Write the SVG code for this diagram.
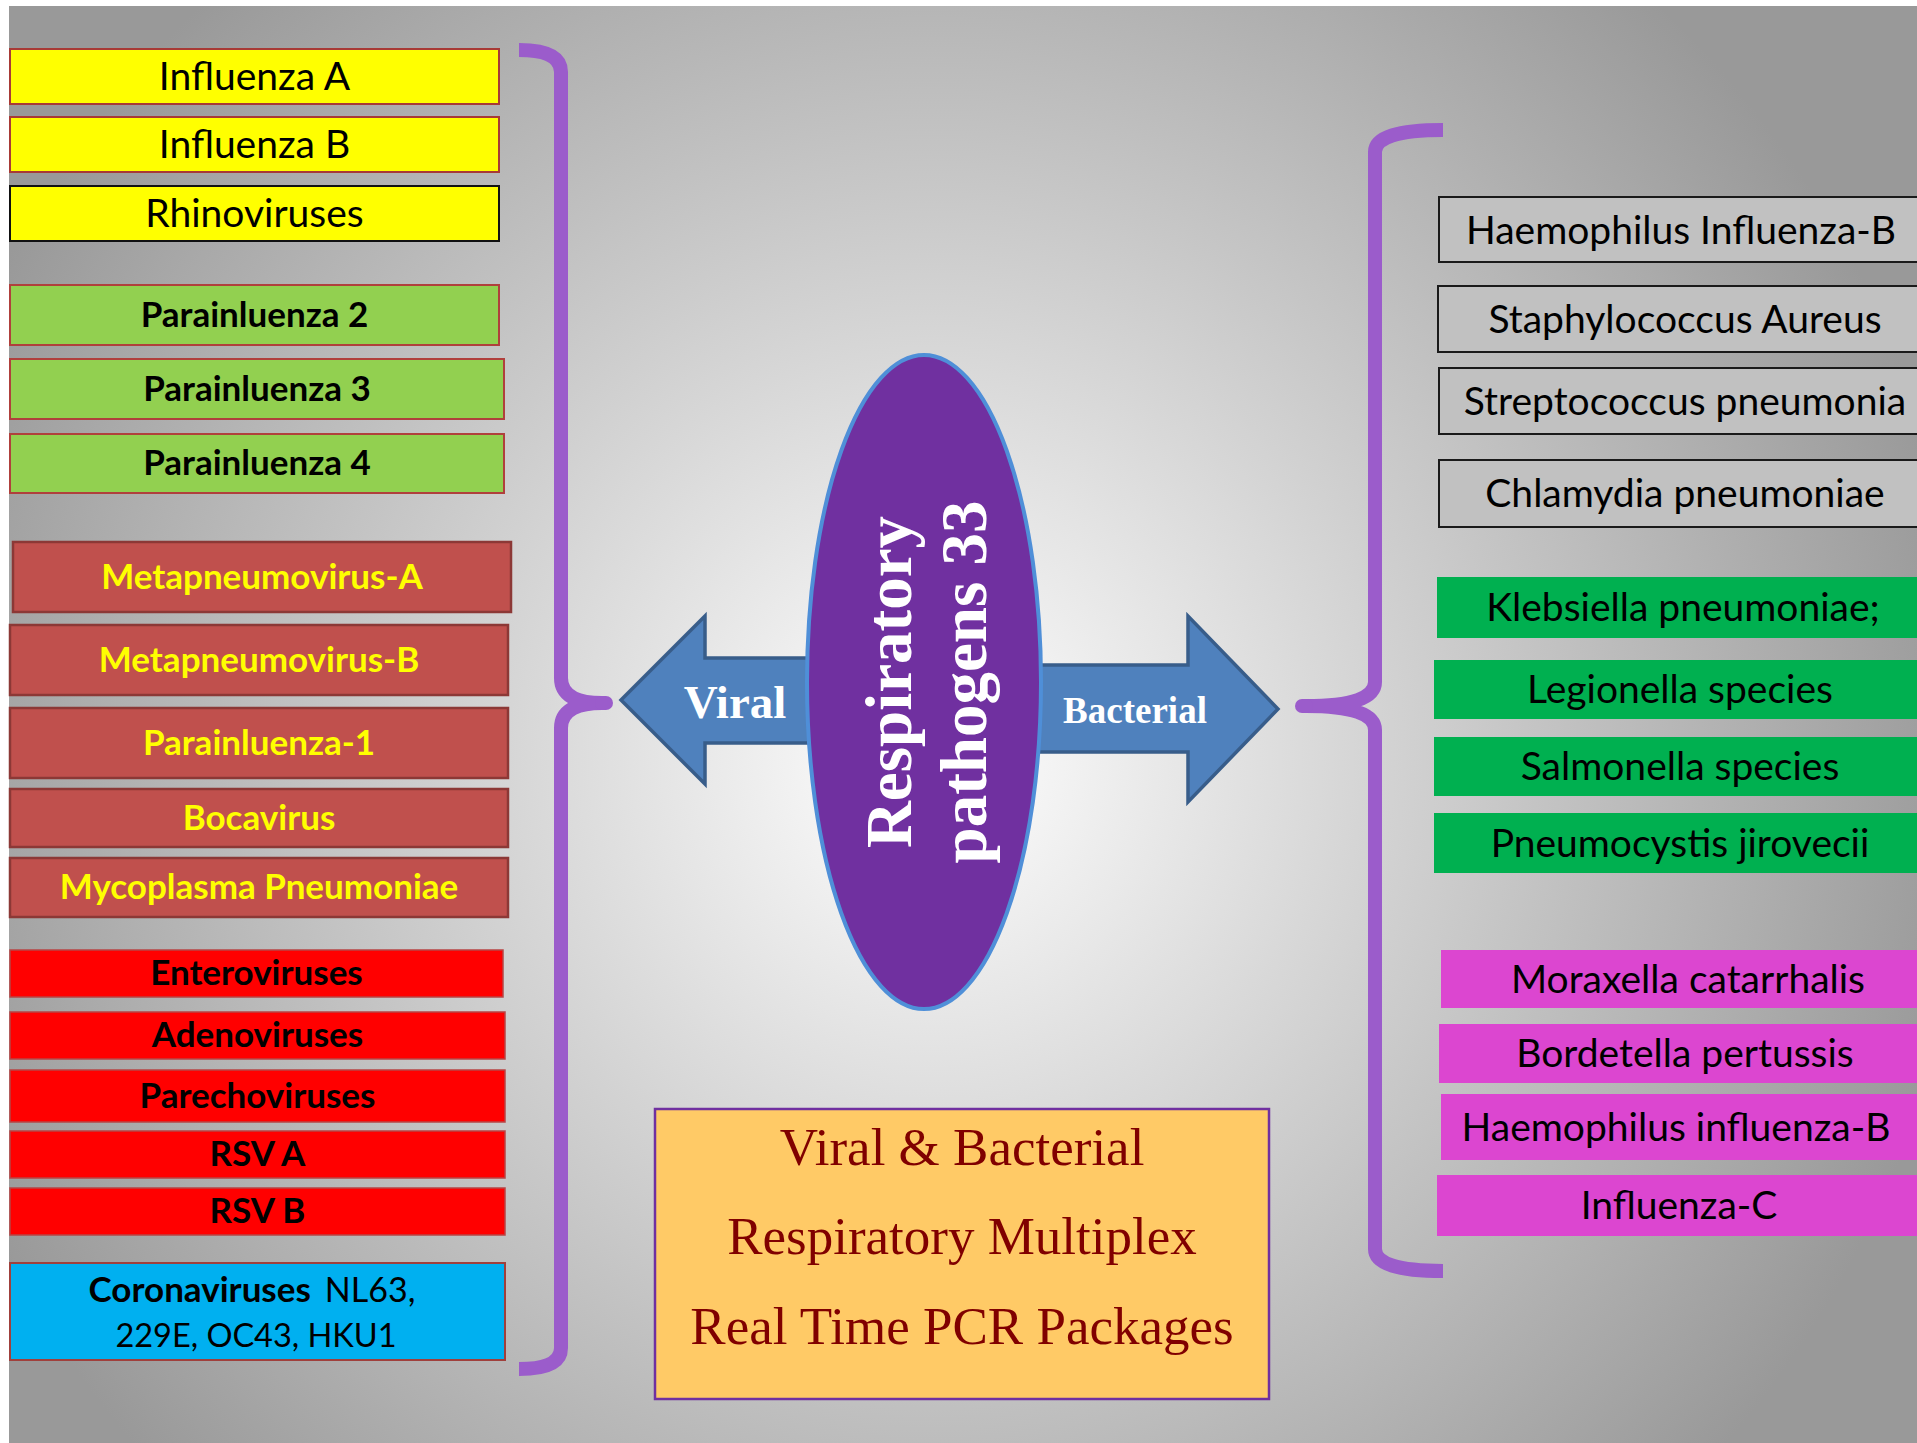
<svg xmlns="http://www.w3.org/2000/svg" width="1917" height="1443" viewBox="0 0 1917 1443">
<defs>
<radialGradient id="bg" gradientUnits="userSpaceOnUse" cx="930" cy="760" r="1050">
<stop offset="0" stop-color="#ffffff"/>
<stop offset="1" stop-color="#999999"/>
</radialGradient>
<style>
.lt{font-family:Lato,"Open Sans","Liberation Sans",sans-serif;font-size:39px;text-anchor:middle;fill:#000}
.lb{font-family:Lato,"Open Sans","Liberation Sans",sans-serif;font-size:35px;font-weight:bold;text-anchor:middle;fill:#000}
.lr{font-family:Lato,"Open Sans","Liberation Sans",sans-serif;font-size:34px;font-weight:normal;fill:#000}
.yel{fill:#ffff00}
.by{fill:#ffff00;stroke:#a83a36;stroke-width:2}
.bg{fill:#92d050;stroke:#b0403c;stroke-width:2}
.bb{fill:#c0504d;stroke:#8c3836;stroke-width:2.5}
.br{fill:#ff0000;stroke:#b84444;stroke-width:1.5}
.bc{fill:#00b0f0;stroke:#a0403c;stroke-width:2}
.gr{fill:#c1c1c1;stroke:#1a1a1a;stroke-width:2}
.gn{fill:#00b050}
.mg{fill:#dc46d0}
.brace{fill:none;stroke:#9b5ccb;stroke-width:14}
.arrow{fill:#4f81bd;stroke:#385d8a;stroke-width:3.5;stroke-linejoin:miter}
.ser{font-family:"Liberation Serif","Times New Roman",serif;font-weight:bold;fill:#fff}
.pk{font-family:"Liberation Serif","Times New Roman",serif;font-size:53px;fill:#800000;text-anchor:middle}
</style>
</defs>
<rect x="0" y="0" width="1917" height="1443" fill="#ffffff"/>
<rect x="9" y="6" width="1908" height="1437" fill="url(#bg)"/>

<g id="connectors">
<path class="brace" d="M519,50 Q561,50 561,72 L561,678 Q561,703 602,703 M602,703 Q561,703 561,728 L561,1348 Q561,1369 519,1369"/>
<path class="brace" d="M602,703 L606,703" stroke-linecap="round"/>
<path class="brace" d="M1443,130 Q1375,130 1375,152 L1375,682 Q1375,706 1306,706 M1306,706 Q1375,706 1375,730 L1375,1249 Q1375,1271 1443,1271"/>
<path class="brace" d="M1306,706 L1302,706" stroke-linecap="round"/>
</g>

<g id="left-arrow">
<polygon class="arrow" points="621,700 705,616 705,658 812,658 812,743 705,743 705,784"/>
<text class="ser" x="735" y="718" font-size="47" text-anchor="middle">Viral</text>
</g>
<g id="right-arrow">
<polygon class="arrow" points="1038,665 1188,665 1188,616 1278,709 1188,802 1188,752 1038,752"/>
<text class="ser" x="1135" y="723" font-size="37" text-anchor="middle">Bacterial</text>
</g>
<g id="center">
<ellipse cx="924" cy="682" rx="117" ry="327" fill="#7030a0" stroke="#4f8fd8" stroke-width="4"/>
<text class="ser" font-size="65" text-anchor="middle" transform="translate(911,682) rotate(-90)">Respiratory</text>
<text class="ser" font-size="65" text-anchor="middle" transform="translate(986,682) rotate(-90)">pathogens 33</text>
</g>

<g id="n-influenza-a"><rect class="by" x="10" y="49" width="489" height="55"/><text class="lt" x="254.5" y="90">Influenza A</text></g>
<g id="n-influenza-b"><rect class="by" x="10" y="117" width="489" height="55"/><text class="lt" x="254.5" y="158">Influenza B</text></g>
<g id="n-rhino"><rect x="10" y="186" width="489" height="55" fill="#ffff00" stroke="#111" stroke-width="2"/><text class="lt" x="254.5" y="227">Rhinoviruses</text></g>
<g id="n-para2"><rect class="bg" x="10" y="285" width="489" height="60"/><text class="lb" x="254.5" y="327">Parainluenza 2</text></g>
<g id="n-para3"><rect class="bg" x="10" y="359" width="494" height="60"/><text class="lb" x="257" y="401">Parainluenza 3</text></g>
<g id="n-para4"><rect class="bg" x="10" y="434" width="494" height="59"/><text class="lb" x="257" y="475">Parainluenza 4</text></g>
<g id="n-meta-a"><rect class="bb" x="13" y="542" width="498" height="70"/><text class="lb yel" x="262" y="589">Metapneumovirus-A</text></g>
<g id="n-meta-b"><rect class="bb" x="10" y="625" width="498" height="70"/><text class="lb yel" x="259" y="672">Metapneumovirus-B</text></g>
<g id="n-para1"><rect class="bb" x="10" y="708" width="498" height="70"/><text class="lb yel" x="259" y="755">Parainluenza-1</text></g>
<g id="n-boca"><rect class="bb" x="10" y="789" width="498" height="58"/><text class="lb yel" x="259" y="830">Bocavirus</text></g>
<g id="n-myco"><rect class="bb" x="10" y="858" width="498" height="59"/><text class="lb yel" x="259" y="899">Mycoplasma Pneumoniae</text></g>
<g id="n-entero"><rect class="br" x="10" y="950" width="493" height="47"/><text class="lb" x="256.5" y="985">Enteroviruses</text></g>
<g id="n-adeno"><rect class="br" x="10" y="1012" width="495" height="47"/><text class="lb" x="257.5" y="1047">Adenoviruses</text></g>
<g id="n-parecho"><rect class="br" x="10" y="1070" width="495" height="52"/><text class="lb" x="257.5" y="1108">Parechoviruses</text></g>
<g id="n-rsva"><rect class="br" x="10" y="1131" width="495" height="47"/><text class="lb" x="257.5" y="1166">RSV A</text></g>
<g id="n-rsvb"><rect class="br" x="10" y="1188" width="495" height="47"/><text class="lb" x="257.5" y="1223">RSV B</text></g>
<g id="n-corona"><rect class="bc" x="10" y="1263" width="495" height="97"/>
<text class="lb" x="252" y="1302">Coronaviruses<tspan class="lr" dx="14">NL63,</tspan></text>
<text class="lb" x="256" y="1347" style="font-weight:normal;font-size:32.5px">229E, OC43, HKU1</text></g>

<g id="n-haem"><rect class="gr" x="1439" y="197" width="490" height="65"/><text class="lt" x="1681" y="244">Haemophilus Influenza-B</text></g>
<g id="n-staph"><rect class="gr" x="1438" y="286" width="490" height="66"/><text class="lt" x="1685" y="333">Staphylococcus Aureus</text></g>
<g id="n-strep"><rect class="gr" x="1439" y="368" width="490" height="66"/><text class="lt" x="1685" y="415">Streptococcus pneumonia</text></g>
<g id="n-chlam"><rect class="gr" x="1439" y="460" width="490" height="67"/><text class="lt" x="1685" y="507">Chlamydia pneumoniae</text></g>
<g id="n-kleb"><rect class="gn" x="1437" y="577" width="490" height="61"/><text class="lt" x="1683" y="621">Klebsiella pneumoniae;</text></g>
<g id="n-legion"><rect class="gn" x="1434" y="660" width="490" height="59"/><text class="lt" x="1680" y="703">Legionella species</text></g>
<g id="n-salmon"><rect class="gn" x="1434" y="737" width="490" height="59"/><text class="lt" x="1680" y="780">Salmonella species</text></g>
<g id="n-pneumo"><rect class="gn" x="1434" y="813" width="490" height="60"/><text class="lt" x="1680" y="857">Pneumocystis jirovecii</text></g>
<g id="n-morax"><rect class="mg" x="1441" y="950" width="490" height="58"/><text class="lt" x="1688" y="993">Moraxella catarrhalis</text></g>
<g id="n-bordet"><rect class="mg" x="1439" y="1024" width="490" height="59"/><text class="lt" x="1685" y="1067">Bordetella pertussis</text></g>
<g id="n-haemb"><rect class="mg" x="1441" y="1094" width="490" height="66"/><text class="lt" x="1676" y="1141">Haemophilus influenza-B</text></g>
<g id="n-inflc"><rect class="mg" x="1437" y="1175" width="490" height="61"/><text class="lt" x="1679" y="1219">Influenza-C</text></g>

<g id="n-package"><rect x="655" y="1109" width="614" height="290" fill="#ffca66" stroke="#7030a0" stroke-width="2.5"/>
<text class="pk" x="962" y="1165">Viral &amp; Bacterial</text>
<text class="pk" x="962" y="1254">Respiratory Multiplex</text>
<text class="pk" x="962" y="1344">Real Time PCR Packages</text></g>
</svg>
